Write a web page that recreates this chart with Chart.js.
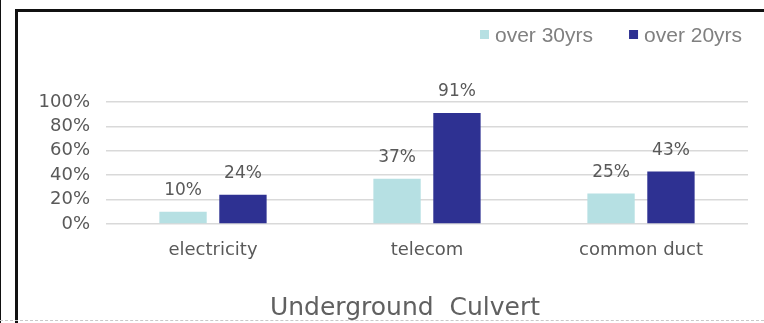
<!DOCTYPE html>
<html>
<head>
<meta charset="utf-8">
<script src="https://cdn.jsdelivr.net/npm/chart.js@4/dist/chart.umd.min.js"></script>
<style>
  html, body { margin: 0; padding: 0; background: #fff; }
  body { width: 764px; height: 323px; position: relative; overflow: hidden; }
  #wrap { position: absolute; left: 0; top: 0; width: 764px; height: 323px; }
  .line { position: absolute; background: #111; }
  #dots { position: absolute; left: 0; top: 320px; width: 764px; border-top: 1px dashed #c8c8c8; }
</style>
</head>
<body>
<div id="wrap"><canvas id="culvertChart" width="764" height="323"></canvas></div>
<div class="line" style="left:0;top:0;width:1px;height:323px;"></div>
<div class="line" style="left:15px;top:9px;width:3px;height:314px;"></div>
<div class="line" style="left:15px;top:9px;width:749px;height:3px;"></div>
<div id="dots"></div>
<script>
const categories = ['electricity', 'telecom', 'common duct'];
const over30 = [10, 37, 25];
const over20 = [24, 91, 43];
const seriesNames = ['over 30yrs', 'over 20yrs'];
const yTicks = [0, 20, 40, 60, 80, 100];
const chartTitle = 'Underground  Culvert';

// value labels above each bar
const barLabels = {
    id: 'barLabels',
    afterDatasetsDraw(chart) {
        const ctx = chart.ctx;
        ctx.save();
        ctx.font = '17px "DejaVu Sans"';
        ctx.fillStyle = '#595959';
        ctx.textAlign = 'center';
        ctx.textBaseline = 'alphabetic';
        chart.data.datasets.forEach((ds, i) => {
            chart.getDatasetMeta(i).data.forEach((bar, j) => {
                ctx.fillText(ds.data[j] + '%', bar.x, bar.y - 17);
            });
        });
        ctx.restore();
    }
};

// legend (top right) and title (bottom)
const extras = {
    id: 'extras',
    afterDraw(chart) {
        const ctx = chart.ctx;
        ctx.save();
        ctx.font = '21px "Liberation Sans"';
        ctx.textBaseline = 'middle';
        let x = 480;
        chart.data.datasets.forEach((ds) => {
            ctx.fillStyle = ds.backgroundColor;
            ctx.fillRect(x, 30, 9, 9);
            ctx.fillStyle = '#808080';
            ctx.textAlign = 'left';
            ctx.fillText(ds.label, x + 15, 36);
            x += 15 + ctx.measureText(ds.label).width + 36;
        });
        ctx.font = '25px "DejaVu Sans"';
        ctx.fillStyle = '#606060';
        ctx.textAlign = 'center';
        ctx.textBaseline = 'alphabetic';
        ctx.fillText(chartTitle, 405, 315);
        ctx.restore();
    }
};

new Chart(document.getElementById('culvertChart').getContext('2d'), {
    type: 'bar',
    data: {
        labels: categories,
        datasets: [{
            label: seriesNames[0],
            data: over30,
            backgroundColor: '#b6e0e3',
            categoryPercentage: 0.56,
            barPercentage: 0.79
        }, {
            label: seriesNames[1],
            data: over20,
            backgroundColor: '#2e3192',
            categoryPercentage: 0.56,
            barPercentage: 0.79
        }]
    },
    options: {
        responsive: false,
        animation: false,
        layout: { padding: { left: 0, right: 16, top: 102, bottom: 59 } },
        plugins: {
            legend: { display: false },
            title: { display: false },
            tooltip: { enabled: false }
        },
        scales: {
            y: {
                min: 0,
                max: 100,
                afterFit: s => { s.width = 106; },
                afterBuildTicks: s => { s.ticks = yTicks.map(v => ({ value: v })); },
                border: { display: false },
                grid: { color: '#d9d9d9', lineWidth: 1.5, drawTicks: false },
                ticks: {
                    autoSkip: false,
                    padding: 16,
                    color: '#595959',
                    font: { family: 'DejaVu Sans', size: 18 },
                    callback: v => v + '%'
                }
            },
            x: {
                afterFit: s => { s.height = 40; },
                border: { display: false },
                grid: { display: false },
                ticks: {
                    padding: 8,
                    color: '#595959',
                    font: { family: 'DejaVu Sans', size: 18 }
                }
            }
        }
    },
    plugins: [barLabels, extras]
});
</script>
</body>
</html>
